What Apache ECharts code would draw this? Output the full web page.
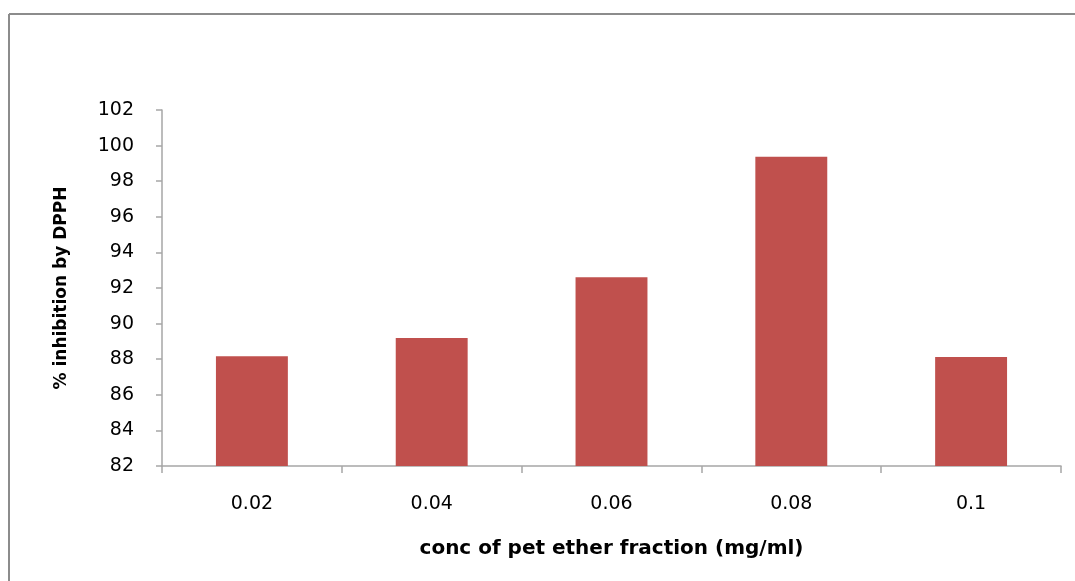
<!DOCTYPE html>
<html>
<head>
<meta charset="utf-8">
<script src="https://cdn.jsdelivr.net/npm/echarts@6/dist/echarts.min.js"></script>
<style>html,body{margin:0;padding:0;background:#fff;}#c{width:1075px;height:581px;}</style>
</head>
<body>
<div id="c"></div>
<script>
const categories = ['0.02', '0.04', '0.06', '0.08', '0.1'];
const inhibition = [88.17, 89.19, 92.6, 99.38, 88.13];
const yMin = 82, yMax = 102, yStep = 2;

const chart = echarts.init(document.getElementById('c'));
const font = '"DejaVu Sans", sans-serif';
const frameStyle = { stroke: '#8c8c8c', lineWidth: 2 };
chart.setOption({
  animation: false,
  backgroundColor: '#fff',
  graphic: [
    { type: 'line', shape: { x1: 9, y1: 14, x2: 1075, y2: 14 }, style: frameStyle },
    { type: 'line', shape: { x1: 9, y1: 14, x2: 9, y2: 581 }, style: frameStyle }
  ],
  grid: { left: 162, right: 14, top: 110, bottom: 115 },
  xAxis: {
    type: 'category',
    data: categories,
    name: 'conc of pet ether fraction (mg/ml)',
    nameLocation: 'middle',
    nameGap: 73,
    nameTextStyle: { fontFamily: font, fontSize: 20, fontWeight: 'bold', color: '#000' },
    axisLine: { lineStyle: { color: '#a6a6a6', width: 1.5 } },
    axisTick: { show: true, length: 7, lineStyle: { color: '#a6a6a6', width: 1.5 } },
    axisLabel: { margin: 29, fontFamily: font, fontSize: 19, color: '#000' }
  },
  yAxis: {
    type: 'value',
    min: yMin, max: yMax, interval: yStep,
    name: '% inhibition by DPPH',
    nameLocation: 'middle',
    nameGap: 92,
    nameTextStyle: { fontFamily: font, fontSize: 17, fontWeight: 'bold', color: '#000' },
    axisLine: { show: true, lineStyle: { color: '#a6a6a6', width: 1.5 } },
    axisTick: { show: true, length: 6, lineStyle: { color: '#a6a6a6', width: 1.5 } },
    splitLine: { show: false },
    axisLabel: { margin: 28, fontFamily: font, fontSize: 19, color: '#000' }
  },
  series: [{
    type: 'bar',
    data: inhibition,
    barWidth: '40%',
    itemStyle: { color: '#c0504d' }
  }]
});
</script>
</body>
</html>
